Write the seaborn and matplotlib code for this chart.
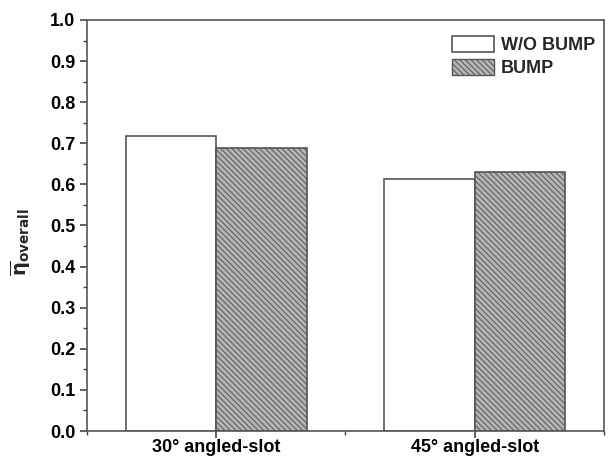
import pandas as pd
import matplotlib.pyplot as plt
import matplotlib as mpl
import seaborn as sns
from matplotlib.patches import Patch
from matplotlib.ticker import MultipleLocator

categories = ["30° angled-slot", "45° angled-slot"]
series = ["W/O BUMP", "BUMP"]
wo_bump = [0.718, 0.613]
bump = [0.689, 0.630]

df = pd.DataFrame({
    "slot": categories * 2,
    "case": [series[0]] * 2 + [series[1]] * 2,
    "eta": wo_bump + bump,
})

sns.set_style("ticks")
mpl.rcParams['font.family'] = ['Liberation Sans', 'DejaVu Sans']
mpl.rcParams['font.weight'] = 'bold'
mpl.rcParams['hatch.linewidth'] = 0.7
mpl.rcParams['hatch.color'] = '#444444'

fig = plt.figure(figsize=(6.09, 4.59), dpi=100)
ax = fig.add_axes([87 / 609, 28 / 459, 517 / 609, 411 / 459])

sns.barplot(data=df, x="slot", y="eta", hue="case", hue_order=series,
            palette=["white", "#b4b4b4"], width=0.7, edgecolor="#555555",
            linewidth=1.2, legend=False, ax=ax)

# hatch the BUMP bars
for bar in ax.containers[1]:
    bar.set_hatch("\\" * 6)

ax.set_xlim(-0.5, 1.5)
ax.set_ylim(0, 1.0)
ax.yaxis.set_major_locator(MultipleLocator(0.1))
ax.yaxis.set_minor_locator(MultipleLocator(0.05))
ax.xaxis.set_minor_locator(MultipleLocator(0.5))
ax.set_yticklabels([f"{v:.1f}" for v in ax.get_yticks()])
ax.tick_params(axis="both", which="major", direction="out", length=5, width=1.2,
               labelsize=13, colors="#444444", labelcolor="black")
ax.tick_params(axis="x", which="major", pad=1)
ax.tick_params(axis="both", which="minor", direction="out", length=3, width=1.0,
               colors="#444444")
for s in ax.spines.values():
    s.set_linewidth(1.2)
    s.set_color("#555555")

ax.set_xlabel("")
ax.set_ylabel(r"$\overline{\mathrm{\eta}}_{\mathbf{overall}}$", fontsize=14)
ax.yaxis.set_label_coords(-0.104, 0.46)

handles = [Patch(facecolor="white", edgecolor="#555555", linewidth=1.2),
           Patch(facecolor="#b4b4b4", edgecolor="#555555", linewidth=1.0, hatch="\\" * 6)]
ax.legend(handles, series, loc="upper right", bbox_to_anchor=(1.004, 0.988),
          frameon=False, handlelength=2.3, handleheight=1.0, handletextpad=0.4,
          labelspacing=0.25, borderaxespad=0.2,
          prop={"weight": "bold", "size": 13})

plt.savefig("out.png", dpi=100)
